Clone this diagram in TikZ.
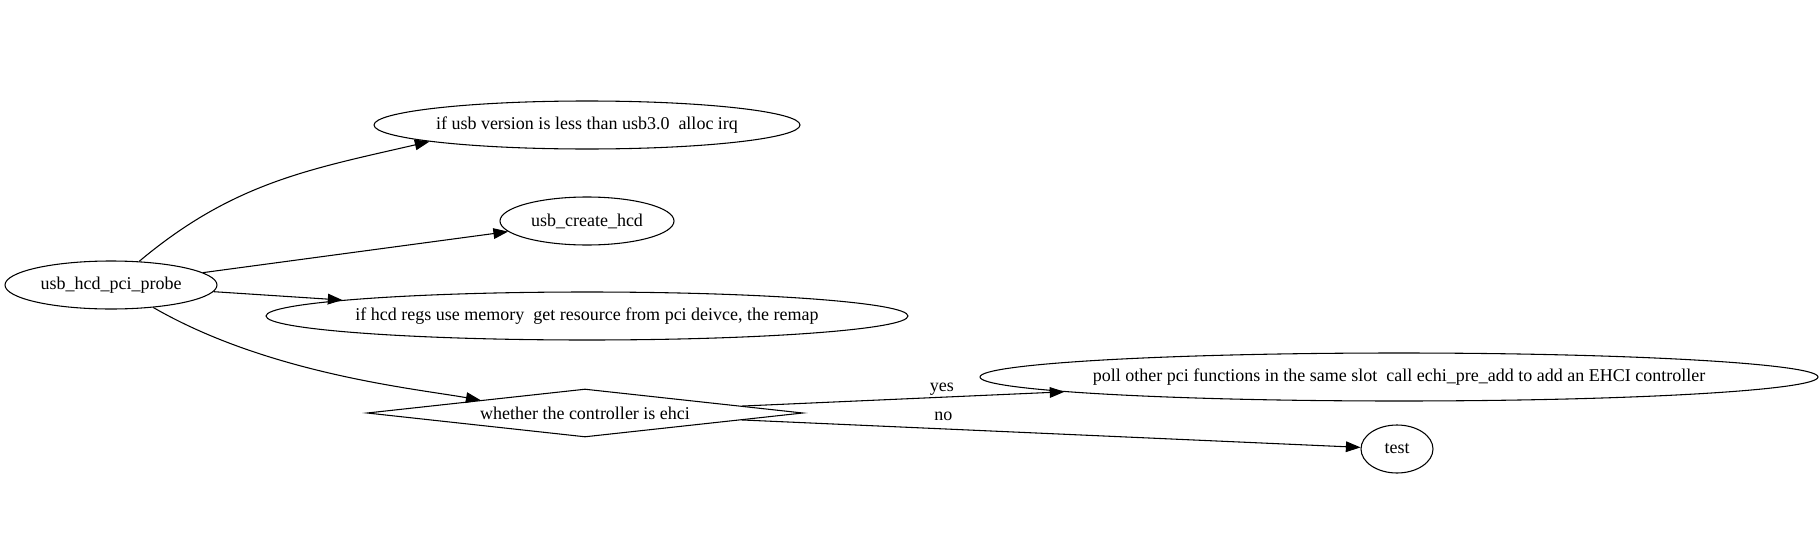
\documentclass[tikz,border=0pt]{standalone}
\usepackage{fontspec}
\setmainfont{Liberation Serif}
\usepackage{tikz}
\usetikzlibrary{shapes.geometric,arrows.meta}
\def\ellnode{\node[ellipse,draw,inner sep=0pt,minimum height=36pt]}
\def\decnode{\node[diamond,draw,inner sep=0pt,minimum height=36pt]}
\def\drawarrow{\draw[-{Triangle[length=11pt,width=8pt]}]}
\def\lbl#1{\makebox[0pt]{#1}}

\begin{document}
\begin{tikzpicture}[x=0.75pt,y=-0.75pt,line width=0.8pt,font=\fontsize{13.5pt}{16pt}\selectfont]
\useasboundingbox (0,0) rectangle (1820,539);
\ellnode[minimum width=159pt] (probe) at (111,285) {\lbl{usb\_hcd\_pci\_probe}};
\ellnode[minimum width=319.5pt] (irq) at (587,125) {\lbl{if usb version is less than usb3.0\ \ alloc irq}};
\ellnode[minimum width=130.5pt] (create) at (587,221) {\lbl{usb\_create\_hcd}};
\ellnode[minimum width=481.5pt] (remap) at (587,316) {\lbl{if hcd regs use memory\ \ get resource from pci deivce, the remap}};
\decnode[minimum width=327pt] (ehci) at (585,413) {\lbl{whether the controller is ehci}};
\ellnode[minimum width=628.5pt] (poll) at (1399,377) {\lbl{poll other pci functions in the same slot\ \ call echi\_pre\_add to add an EHCI controller}};
\ellnode[minimum width=54pt] (test) at (1397,449) {\lbl{test}};
\drawarrow (probe.40) to[out=40,in=193] (irq.186);
\drawarrow (probe) -- (create);
\drawarrow (probe) -- (remap);
\drawarrow (probe.-28) to[out=-30,in=170,in looseness=0.5] (ehci.173);
\drawarrow (ehci) -- node[pos=0.62,anchor=base,yshift=4.5pt] (yes) {yes} (poll);
\drawarrow (ehci) -- node[pos=0.326,anchor=base,yshift=6pt] (no) {no} (test);
\end{tikzpicture}
\end{document}
